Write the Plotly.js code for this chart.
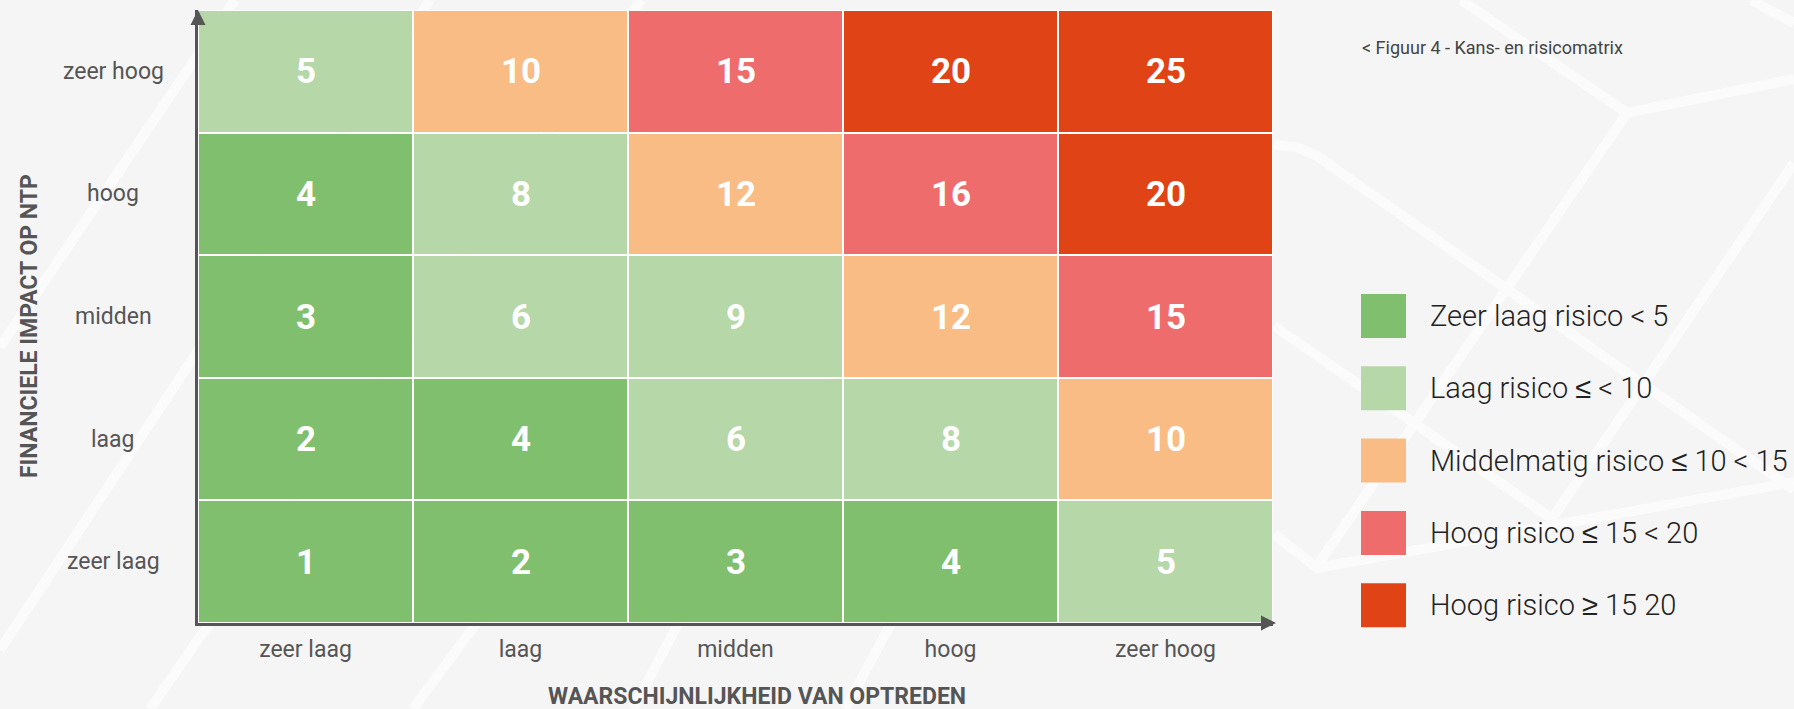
<!DOCTYPE html>
<html>
<head>
<meta charset="utf-8">
<script src="https://cdn.plot.ly/plotly-3.0.1.min.js"></script>
<style>
  html, body { margin: 0; padding: 0; background: #f5f5f5; }
  #chart { width: 1794px; height: 709px; }
</style>
</head>
<body>
<div id="chart"></div>
<script>
// ---- data ----
const likelihoodLevels = ['zeer laag', 'laag', 'midden', 'hoog', 'zeer hoog'];   // x axis, left to right
const impactLevels     = ['zeer laag', 'laag', 'midden', 'hoog', 'zeer hoog'];   // y axis, bottom to top
const riskScores = [          // rows follow impactLevels (bottom to top)
  [1, 2, 3, 4, 5],
  [2, 4, 6, 8, 10],
  [3, 6, 9, 12, 15],
  [4, 8, 12, 16, 20],
  [5, 10, 15, 20, 25]
];
const riskClass = [           // 0 zeer laag, 1 laag, 2 middelmatig, 3 hoog, 4 zeer hoog
  [0, 0, 0, 0, 1],
  [0, 0, 1, 1, 2],
  [0, 1, 1, 2, 3],
  [0, 1, 2, 3, 4],
  [1, 2, 3, 4, 4]
];
const classColors = ['#80bf6e', '#b6d7a8', '#f8bc84', '#ee6c6c', '#e04416'];
const LE = '<span style="font-family:Liberation Sans">≤</span>';
const GE = '<span style="font-family:Liberation Sans">≥</span>';
const classLabels = [
  'Zeer laag risico &lt; 5',
  'Laag risico ' + LE + ' &lt; 10',
  'Middelmatig risico ' + LE + ' 10 &lt; 15',
  'Hoog risico ' + LE + ' 15 &lt; 20',
  'Hoog risico ' + GE + ' 15 20'
];
const xTitle = 'WAARSCHIJNLIJKHEID VAN OPTREDEN';
const yTitle = 'FINANCIELE IMPACT OP NTP';
const caption = '&lt; Figuur 4 - Kans- en risicomatrix';

// ---- layout geometry ----
const W = 1794, H = 709;
const M = { l: 198, r: 521, t: 10, b: 86 };
const PW = W - M.l - M.r, PH = H - M.t - M.b;
const px = X => (X - M.l) / PW;
const py = Y => (H - M.b - Y) / PH;

// decorative background strokes (pixel polylines)
const backgroundStrokes = [
  [[235, 0], [0, 347]],
  [[430, 0], [0, 650]],
  [[641, 0], [150, 709]],
  [[490, 605], [413, 709]],
  [[688, 605], [633, 709]],
  [[901, 605], [845, 709]],
  [[1461, 0], [1627, 113], [1794, 79]],
  [[1627, 113], [1317, 566]],
  [[1274, 534], [1317, 568], [1794, 482]],
  [[1274, 145], [1296, 147], [1317, 156], [1794, 490]],
  [[1274, 326], [1551, 518]],
  [[1794, 163], [1551, 520]],
  [[1751, 0], [1794, 23]]
];

const n = classColors.length;
const colorscale = [];
classColors.forEach((c, i) => {
  colorscale.push([i / n, c]);
  colorscale.push([(i + 1) / n, c]);
});

const trace = {
  type: 'heatmap',
  x: likelihoodLevels,
  y: impactLevels,
  z: riskClass,
  text: riskScores,
  texttemplate: '%{text}',
  textfont: { family: 'Roboto', size: 35, color: '#ffffff', weight: 700 },
  colorscale: colorscale,
  zmin: -0.5,
  zmax: n - 0.5,
  showscale: false,
  xgap: 2,
  ygap: 2,
  hoverinfo: 'skip'
};

const shapes = [];
backgroundStrokes.forEach(pts => {
  const d = pts.map((p, i) => (i ? 'L' : 'M') + px(p[0]).toFixed(5) + ',' + py(p[1]).toFixed(5)).join(' ');
  shapes.push({
    type: 'path', xref: 'paper', yref: 'paper', path: d, layer: 'below',
    line: { color: '#fbfbfb', width: 10 }
  });
});

const annotations = [];
// legend
const legTop = 294, legStep = 72.3, sq = 44;
classLabels.forEach((lab, i) => {
  const y0 = legTop + i * legStep;
  shapes.push({
    type: 'rect', xref: 'paper', yref: 'paper',
    x0: px(1361), x1: px(1361 + sq + 1), y0: py(y0), y1: py(y0 + sq),
    fillcolor: classColors[i], line: { width: 0 }, layer: 'above'
  });
  annotations.push({
    xref: 'paper', yref: 'paper', x: px(1428), y: py(y0 + sq / 2),
    xanchor: 'left', yanchor: 'middle', showarrow: false,
    text: lab, font: { family: 'Roboto', size: 29, color: '#222222', weight: 300 }
  });
});
// y tick labels (centered)
impactLevels.forEach(lab => {
  annotations.push({
    xref: 'paper', yref: 'y', x: px(113), y: lab,
    xanchor: 'center', yanchor: 'middle', showarrow: false,
    text: lab, font: { family: 'Roboto', size: 23, color: '#555555' }
  });
});
// axis titles
annotations.push({
  xref: 'paper', yref: 'paper', x: px(757), y: py(696),
  xanchor: 'center', yanchor: 'middle', showarrow: false,
  text: xTitle, font: { family: 'Roboto', size: 23, color: '#555555', weight: 700 }
});
annotations.push({
  xref: 'paper', yref: 'paper', x: px(29), y: py(326), textangle: -90,
  xanchor: 'center', yanchor: 'middle', showarrow: false,
  text: yTitle, font: { family: 'Roboto', size: 23, color: '#555555', weight: 700 }
});
// caption
annotations.push({
  xref: 'paper', yref: 'paper', x: px(1360), y: py(48),
  xanchor: 'left', yanchor: 'middle', showarrow: false,
  text: caption, font: { family: 'Roboto', size: 18, color: '#444444' }
});
// axis arrowheads
annotations.push({
  xref: 'paper', yref: 'paper', x: 0, y: 1, ax: 0, ay: 16, text: '',
  showarrow: true, arrowhead: 2, arrowsize: 1, arrowwidth: 3, arrowcolor: '#555555'
});
annotations.push({
  xref: 'paper', yref: 'paper', x: px(1276), y: 0, ax: -16, ay: 0, text: '',
  showarrow: true, arrowhead: 2, arrowsize: 1, arrowwidth: 3, arrowcolor: '#555555'
});

const layout = {
  width: W, height: H,
  margin: M,
  paper_bgcolor: '#f5f5f5',
  plot_bgcolor: '#ffffff',
  font: { family: 'Roboto', color: '#555555' },
  showlegend: false,
  xaxis: {
    type: 'category', range: [-0.5, 4.5], fixedrange: true,
    showgrid: false, zeroline: false, ticks: '',
    showline: true, linecolor: '#555555', linewidth: 3,
    tickfont: { family: 'Roboto', size: 23, color: '#555555' },
    ticklabelstandoff: 3
  },
  yaxis: {
    type: 'category', range: [-0.5, 4.5], fixedrange: true,
    showgrid: false, zeroline: false, ticks: '', showticklabels: false,
    showline: true, linecolor: '#555555', linewidth: 3
  },
  shapes: shapes,
  annotations: annotations
};

Plotly.newPlot('chart', [trace], layout, { displayModeBar: false, staticPlot: true });
</script>
</body>
</html>
